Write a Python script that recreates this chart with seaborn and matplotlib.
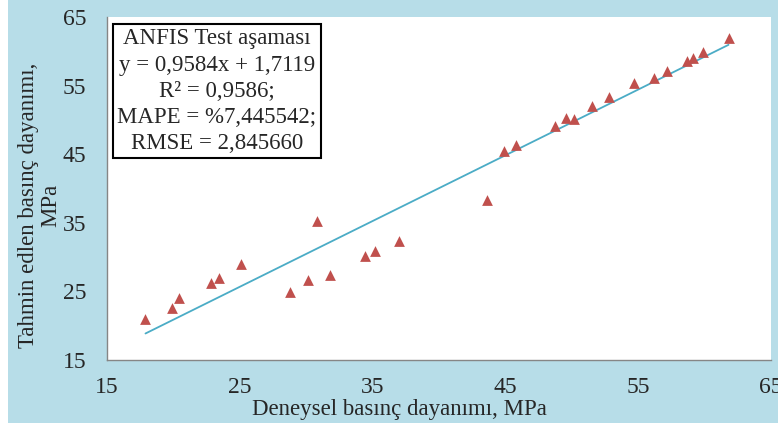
import matplotlib
matplotlib.use("Agg")
import matplotlib.pyplot as plt
import seaborn as sns
import numpy as np
import pandas as pd
from matplotlib.patches import Rectangle

# Deneysel (x) ve ANFIS tahmini (y) basınç dayanımları, MPa
deneysel = [17.9, 19.9, 20.4, 22.8, 23.4, 25.1, 28.8, 30.1, 30.8, 31.8, 34.4,
            35.2, 37.0, 43.6, 44.9, 45.8, 48.7, 49.6, 50.2, 51.5, 52.8, 54.7,
            56.2, 57.2, 58.7, 59.1, 59.9, 61.8]
tahmin = [21.0, 22.6, 24.1, 26.2, 26.9, 29.0, 24.9, 26.7, 35.2, 27.4, 30.1,
          30.9, 32.3, 38.3, 45.5, 46.3, 49.1, 50.3, 50.1, 52.0, 53.4, 55.4,
          56.1, 57.1, 58.6, 59.0, 59.9, 61.9]

# Trend çizgisi katsayıları
egim = 0.9584
kesisim = 1.7119

ticks = [15, 25, 35, 45, 55, 65]
kutu_metni = ["ANFIS Test aşaması", "y = 0,9584x + 1,7119", "R² = 0,9586;",
              "MAPE = %7,445542;", "RMSE = 2,845660"]

BG = "#b7dde8"
RED = "#c0504d"
AQUA = "#4bacc6"
GRAY = "#868686"

sns.set_style("white")
plt.rcParams['font.family'] = ['Liberation Serif', 'DejaVu Serif']

df = pd.DataFrame({"x": deneysel, "y": tahmin})
x_line = np.array([min(deneysel), max(deneysel)])
trend = pd.DataFrame({"x": x_line, "y": egim * x_line + kesisim})

fig = plt.figure(figsize=(7.78, 4.29), dpi=100, facecolor="white")
# mavi zemin (solda ve altta ince beyaz kenar)
fig.patches.append(Rectangle((8 / 778, 6 / 429), 1, 1, transform=fig.transFigure,
                             facecolor=BG, edgecolor="none", zorder=-5))

ax = fig.add_axes([0.1375, 0.1608, 0.8535, 0.7996])
ax.set_facecolor("white")

sns.lineplot(data=trend, x="x", y="y", ax=ax, color=AQUA, linewidth=1.3)
sns.scatterplot(data=df, x="x", y="y", ax=ax, marker="^", color=RED,
                s=60, linewidth=0, zorder=3)

ax.set_xlim(15, 65)
ax.set_ylim(15, 65)
ax.set_xticks(ticks)
ax.set_yticks(ticks)
ax.tick_params(axis="both", direction="out", length=6, width=1, color=GRAY,
               labelsize=17)
ax.tick_params(axis="x", pad=6)
ax.tick_params(axis="y", pad=9)
for s in ["top", "right"]:
    ax.spines[s].set_visible(False)
for s in ["left", "bottom"]:
    ax.spines[s].set_color(GRAY)
    ax.spines[s].set_linewidth(1)

ax.set_xlabel("Deneysel basınç dayanımı, MPa", fontsize=16.5)
ax.xaxis.set_label_coords(0.441, -0.114)
ax.set_ylabel("Tahmin edlen basınç dayanımı,\nMPa", fontsize=16.5,
              linespacing=1.1)
ax.yaxis.set_label_coords(-0.069, 0.452)

ax.text(0.1655, 0.9665, "\n".join(kutu_metni), transform=ax.transAxes,
        ha="center", va="top", fontsize=16.5, linespacing=1.32,
        bbox=dict(boxstyle="square,pad=0.18", facecolor="white",
                  edgecolor="black", linewidth=1.5))

fig.savefig("out.png", dpi=100, facecolor="white")
